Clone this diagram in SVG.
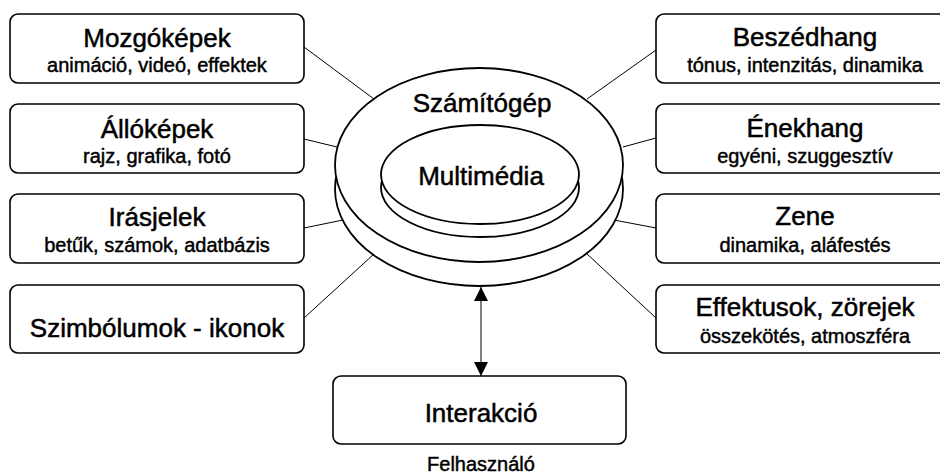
<svg xmlns="http://www.w3.org/2000/svg" width="940" height="474" viewBox="0 0 940 474">
<style>
  text { font-family: "Liberation Sans", Arial, sans-serif; fill: #000; stroke: #000; stroke-width: 0.5; text-anchor: middle; }
  .t { font-size: 26px; }
  .s { font-size: 20px; stroke-width: 0.45; }
  .f { font-size: 20px; stroke-width: 0.45; }
  .box { fill: #fff; stroke: #000; stroke-width: 1.6; }
  .ell { fill: #fff; stroke: #000; stroke-width: 1.8; }
  .ln { stroke: #000; stroke-width: 1; fill: none; }
</style>
<defs>
  <marker id="ah" viewBox="0 0 10 10" refX="10" refY="5" markerWidth="14" markerHeight="14" markerUnits="userSpaceOnUse" orient="auto-start-reverse">
    <path d="M0,0 L10,5 L0,10 z" fill="#000"/>
  </marker>
</defs>
<rect width="940" height="474" fill="#fff"/>

<g id="connectors">
  <line class="ln" x1="304" y1="47" x2="374" y2="99"/>
  <line class="ln" x1="304" y1="139" x2="337" y2="147"/>
  <line class="ln" x1="304" y1="228" x2="343" y2="220"/>
  <line class="ln" x1="304" y1="318" x2="374" y2="254"/>
  <line class="ln" x1="656" y1="50" x2="587" y2="99"/>
  <line class="ln" x1="656" y1="138" x2="623" y2="147"/>
  <line class="ln" x1="656" y1="228" x2="614" y2="220"/>
  <line class="ln" x1="656" y1="318" x2="586" y2="253"/>
  <line class="ln" x1="481" y1="376" x2="481" y2="287" stroke-width="1.2" marker-start="url(#ah)" marker-end="url(#ah)"/>
</g>

<g id="computer">
  <ellipse class="ell" cx="479" cy="189" rx="144" ry="97"/>
  <ellipse class="ell" cx="479" cy="165" rx="144" ry="97"/>
  <text class="t" x="482" y="112">Számítógép</text>
</g>

<g id="multimedia">
  <ellipse class="ell" cx="480" cy="187.5" rx="99" ry="49.5"/>
  <ellipse class="ell" cx="480" cy="174.5" rx="99" ry="49.5"/>
  <text class="t" x="481" y="185">Multimédia</text>
</g>

<g id="mozgokepek">
  <rect class="box" x="10" y="14" width="294" height="69" rx="8"/>
  <text class="t" x="157" y="47">Mozgóképek</text>
  <text class="s" x="157" y="72">animáció, videó, effektek</text>
</g>
<g id="allokepek">
  <rect class="box" x="10" y="104" width="294" height="69" rx="8"/>
  <text class="t" x="157" y="138">Állóképek</text>
  <text class="s" x="157" y="163">rajz, grafika, fotó</text>
</g>
<g id="irasjelek">
  <rect class="box" x="10" y="194" width="294" height="69" rx="8"/>
  <text class="t" x="157" y="226">Irásjelek</text>
  <text class="s" x="157" y="252">betűk, számok, adatbázis</text>
</g>
<g id="szimbolumok">
  <rect class="box" x="10" y="285" width="294" height="68" rx="8"/>
  <text class="t" x="157" y="337">Szimbólumok - ikonok</text>
</g>

<g id="beszedhang">
  <rect class="box" x="656" y="14" width="296" height="69" rx="8"/>
  <text class="t" x="805" y="46">Beszédhang</text>
  <text class="s" x="805" y="72">tónus, intenzitás, dinamika</text>
</g>
<g id="enekhang">
  <rect class="box" x="656" y="104" width="296" height="69" rx="8"/>
  <text class="t" x="805" y="137">Énekhang</text>
  <text class="s" x="805" y="163">egyéni, szuggesztív</text>
</g>
<g id="zene">
  <rect class="box" x="656" y="194" width="296" height="69" rx="8"/>
  <text class="t" x="805" y="225">Zene</text>
  <text class="s" x="805" y="252">dinamika, aláfestés</text>
</g>
<g id="effektusok">
  <rect class="box" x="656" y="285" width="296" height="68" rx="8"/>
  <text class="t" x="805" y="316">Effektusok, zörejek</text>
  <text class="s" x="805" y="343">összekötés, atmoszféra</text>
</g>

<g id="interakcio">
  <rect class="box" x="333" y="376" width="293" height="68" rx="8"/>
  <text class="t" x="481" y="422">Interakció</text>
</g>
<g id="felhasznalo">
  <text class="f" x="481" y="471">Felhasználó</text>
</g>
</svg>
